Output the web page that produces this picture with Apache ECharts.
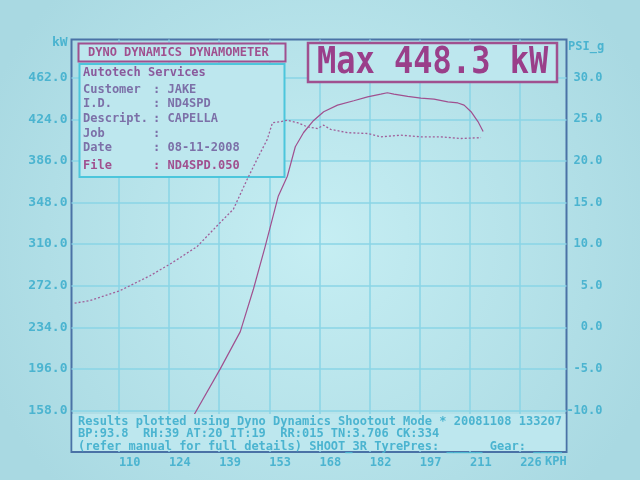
<!DOCTYPE html>
<html>
<head>
<meta charset="utf-8">
<script src="https://cdn.jsdelivr.net/npm/echarts@6/dist/echarts.min.js"></script>
<style>
html,body{margin:0;padding:0;background:#bde7ee;}
#c{width:640px;height:480px;}
</style>
</head>
<body>
<div id="c"></div>
<script>
// ---- data ----
const speedTicks = [110, 124.5, 139, 153.5, 168, 182.5, 197, 211.5, 226];
const kwTicks = [158, 196, 234, 272, 310, 348, 386, 424, 462];
const powerKph = [131.0, 139.3, 145.1, 148.9, 152.3, 156.1, 158.7, 161.0, 163.4, 166.3, 169.2, 173.2, 177.9, 181.9, 185.7, 187.6, 189.5, 193.5, 197.3, 201.1, 205.1, 208.0, 209.8, 211.8, 213.8, 215.3];
const powerKw = [150, 196, 230, 269, 308, 354, 372, 399, 412, 423, 431, 437, 441, 444.5, 447, 448.3, 447, 445, 443.5, 442.5, 440, 439, 437, 431, 422, 413];
const boostKph = [97.2, 101.6, 110.3, 119.0, 124.8, 132.6, 139.3, 143.1, 147.1, 150.3, 152.9, 154.4, 156.5, 158.7, 161.6, 164.5, 167.4, 169.2, 171.2, 176.1, 181.9, 185.7, 191.5, 197.3, 203.1, 208.9, 214.7];
const boostPsi = [2.9, 3.2, 4.4, 6.2, 7.6, 9.7, 12.6, 14.2, 17.8, 20.5, 22.6, 24.6, 24.7, 24.9, 24.6, 24.1, 23.9, 24.3, 23.8, 23.4, 23.3, 22.9, 23.1, 22.9, 22.9, 22.7, 22.8];
const infoLines = [
  ['Autotech Services', '', ''],
  ['Customer', ': ', 'JAKE'],
  ['I.D.', ': ', 'ND4SPD'],
  ['Descript.', ': ', 'CAPELLA'],
  ['Job', ': ', ''],
  ['Date', ': ', '08-11-2008'],
  ['File', ': ', 'ND4SPD.050']
];
const footerLines = [
  'Results plotted using Dyno Dynamics Shootout Mode * 20081108 133207',
  'BP:93.8  RH:39 AT:20 IT:19  RR:015 TN:3.706 CK:334',
  '(refer manual for full details) SHOOT_3R TyrePres: _____ Gear: ____'
];
const maxText = 'Max 448.3 kW';

// ---- style ----
const MONO = "'DejaVu Sans Mono', 'Liberation Mono', monospace";
const CYAN = '#4bb4d0';
const GRID = '#8ad4e6';
const FRAME = '#4a72a6';
const MAG = '#a0508f';
const BG = '#bde7ee';

const chart = echarts.init(document.getElementById('c'));

const graphics = [];
// footer cover (above the curves)
graphics.push({type:'rect', shape:{x:72.5, y:414, width:493, height:37}, style:{fill:BG}, z:100});
footerLines.forEach((t,i)=>{
  graphics.push({type:'text', x:78, y:421.5+i*12.5, z:101,
    style:{text:t, font:'bold 12px '+MONO, fill:CYAN, verticalAlign:'middle'}});
});
// title box
graphics.push({type:'rect', shape:{x:78.5, y:43.5, width:207, height:18}, style:{fill:BG, stroke:MAG, lineWidth:2}, z:60});
graphics.push({type:'text', x:88, y:53, z:61, style:{text:'DYNO DYNAMICS DYNAMOMETER', font:'bold 12px '+MONO, fill:MAG, verticalAlign:'middle'}});
// info box (curves are drawn over it)
graphics.push({type:'rect', shape:{x:79.5, y:64, width:205, height:113}, style:{fill:BG, stroke:'#4cc6dc', lineWidth:2}, z:60});
const infoY = [73, 90, 104, 118.5, 133.5, 148, 165.5];
infoLines.forEach((l,i)=>{
  const col = (i===0) ? '#8a5a9c' : (i===6 ? MAG : '#7c70a8');
  graphics.push({type:'text', x:83, y:infoY[i], z:61, style:{text:l[0], font:'bold 12px '+MONO, fill:col, verticalAlign:'middle'}});
  if (l[1]) graphics.push({type:'text', x:153, y:infoY[i], z:61, style:{text:l[1]+l[2], font:'bold 12px '+MONO, fill:col, verticalAlign:'middle'}});
});
// max box
graphics.push({type:'rect', shape:{x:308, y:43, width:249, height:39}, style:{fill:BG, stroke:MAG, lineWidth:2.5}, z:60});
graphics.push({type:'text', x:317, y:63, scaleY:1.18, z:61, style:{text:maxText, font:'bold 32px '+MONO, fill:'#9a3f8a', verticalAlign:'middle'}});
// axis names
graphics.push({type:'text', x:52, y:43, z:101, style:{text:'kW', font:'bold 13px '+MONO, fill:CYAN, verticalAlign:'middle'}});
graphics.push({type:'text', x:568, y:47, z:101, style:{text:'PSI_g', font:'bold 12px '+MONO, fill:CYAN, verticalAlign:'middle'}});
graphics.push({type:'text', x:545, y:462, z:101, style:{text:'KPH', font:'bold 12px '+MONO, fill:CYAN, verticalAlign:'middle'}});

chart.setOption({
  backgroundColor: {type:'radial', x:0.5, y:0.5, r:0.75, colorStops:[{offset:0,color:'#c6eef3'},{offset:1,color:'#a9d9e2'}]},
  animation:false,
  grid:{left:71.5, right:73.5, top:39.5, bottom:28, show:true, borderColor:FRAME, borderWidth:2, backgroundColor:'transparent'},
  xAxis:{type:'value', min:96.3, max:239.4,
    axisLine:{show:false}, axisTick:{show:false, customValues:speedTicks},
    splitLine:{show:true, lineStyle:{color:GRID, width:1.5}},
    axisLabel:{customValues:speedTicks, align:'left', margin:5, color:CYAN, fontFamily:MONO, fontWeight:'bold', fontSize:12,
      formatter:v=>String(Math.floor(v))}},
  yAxis:[
    {type:'value', min:120, max:497, position:'left',
      axisLine:{show:false}, axisTick:{show:false, customValues:kwTicks},
      splitLine:{show:true, lineStyle:{color:GRID, width:1.5}},
      axisLabel:{customValues:kwTicks, margin:4, color:CYAN, fontFamily:MONO, fontWeight:'bold', fontSize:13,
        formatter:v=>v.toFixed(1)}},
    {type:'value', min:-15, max:34.605, interval:5, position:'right',
      axisLine:{show:false}, axisTick:{show:false}, splitLine:{show:false},
      axisLabel:{showMinLabel:false, showMaxLabel:false, align:'right', margin:36, color:CYAN, fontFamily:MONO, fontWeight:'bold', fontSize:12,
        formatter:v=>(v>34?'':v.toFixed(1))}}
  ],
  series:[
    {type:'line', z:80, yAxisIndex:0, data:powerKph.map((x,i)=>[x,powerKw[i]]), showSymbol:false, symbol:'none',
      lineStyle:{color:MAG, width:1.2}},
    {type:'line', z:80, yAxisIndex:1, data:boostKph.map((x,i)=>[x,boostPsi[i]]), showSymbol:false, symbol:'none',
      lineStyle:{color:'#a0609a', width:1.3, type:[2,2]}}
  ],
  graphic: graphics
});
</script>
</body>
</html>
